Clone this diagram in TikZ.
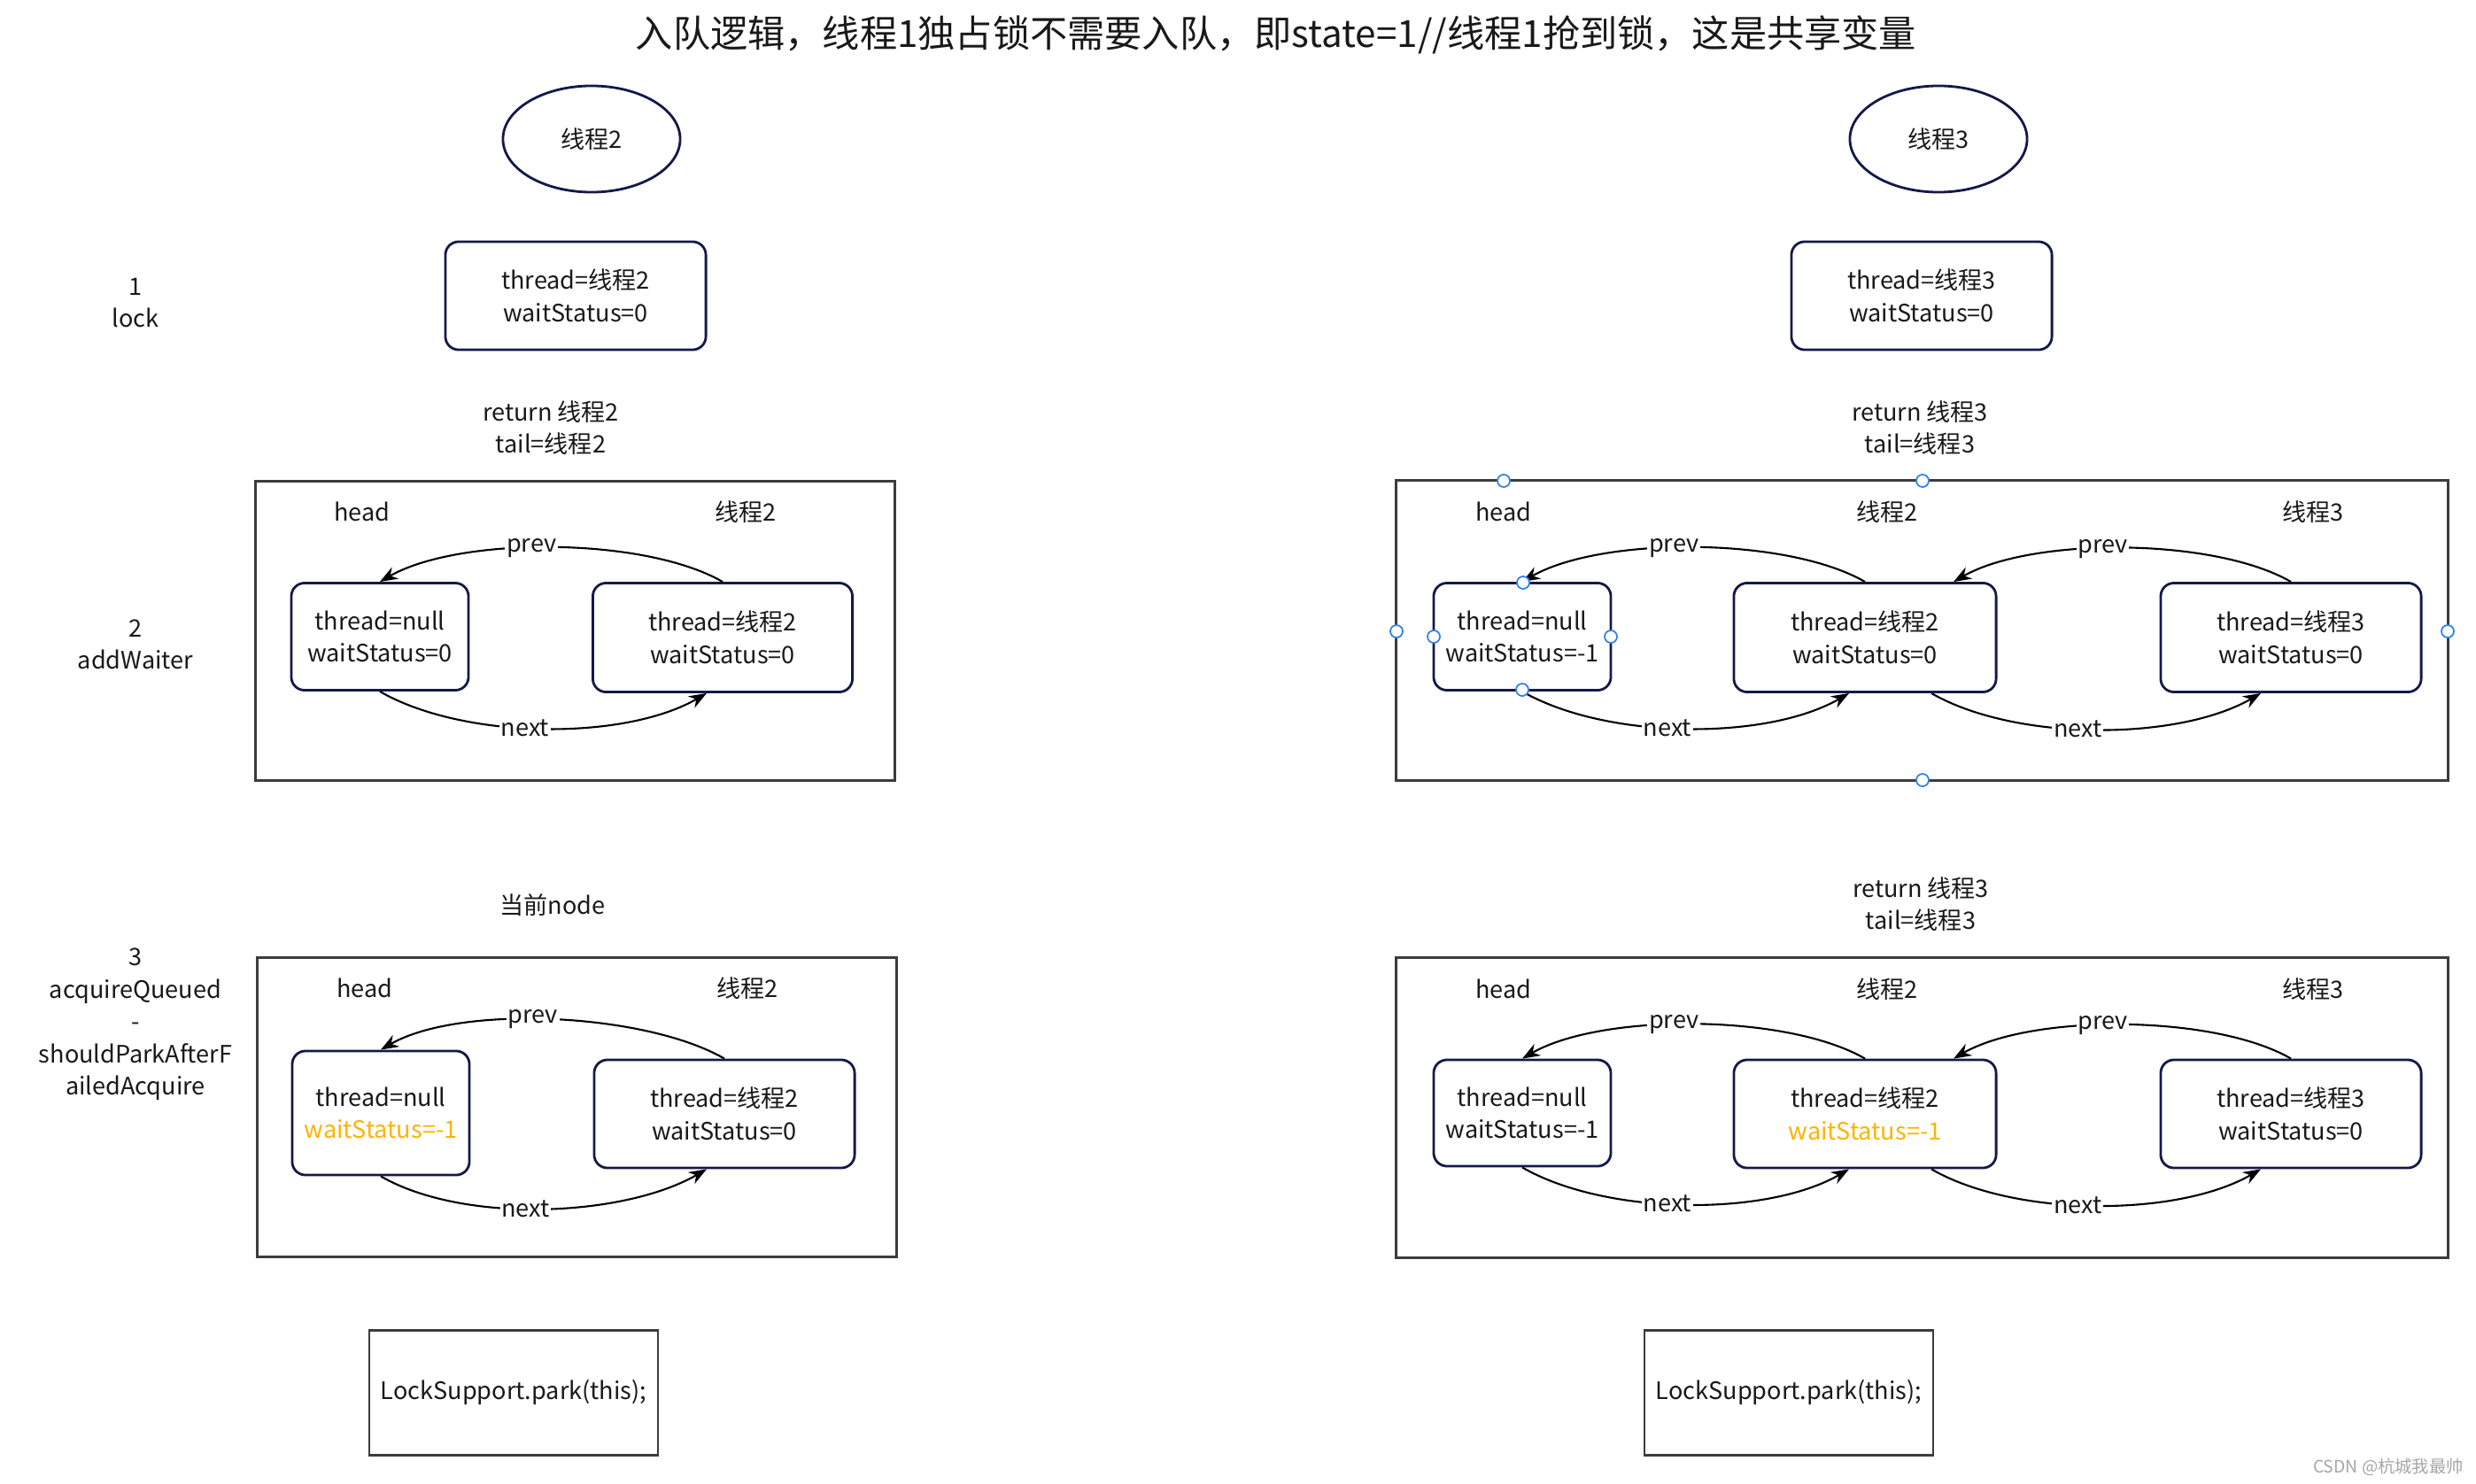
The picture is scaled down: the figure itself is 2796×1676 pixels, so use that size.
\documentclass[tikz,border=0pt]{standalone}
\usepackage{fontspec}
\setmainfont{Noto Sans CJK SC}
\usepackage{tikz}
\usetikzlibrary{arrows.meta}
\usetikzlibrary{shapes.geometric}
\definecolor{boxnavy}{HTML}{14194A}
\definecolor{panelgray}{HTML}{3C3C3C}
\definecolor{waitorange}{HTML}{FFB300}
\definecolor{handleblue}{HTML}{2F80ED}

\begin{document}
\begin{tikzpicture}[x=0.01cm, y=-0.01cm,
    every node/.style={font=\fontsize{7.7}{10.4}\selectfont, text=black!90},
    nodebox/.style={draw=boxnavy, line width=0.8pt, rounded corners=0.15cm, align=center, minimum height=1.22cm},
    panel/.style={draw=panelgray, line width=0.9pt, minimum width=7.21cm, minimum height=3.38cm},
    link/.style={-{Stealth[length=0.2cm,width=0.15cm]}, line width=0.6pt},
    lbl/.style={fill=white, inner sep=0.5pt},
    prevlink/.style={link, out=150, in=30, looseness=0.68},
    nextlink/.style={link, out=-30, in=-150, looseness=0.75},
    handle/.style={draw=handleblue, fill=white, line width=0.5pt}]
          \useasboundingbox (0,0) rectangle (2796,1676);

          \node[font=\fontsize{12}{14}\selectfont] (title) at (1441,39) {入队逻辑，线程1独占锁不需要入队，即state=1//线程1抢到锁，这是共享变量};

          % step labels
          \node[align=center] (s1) at (153,342) {1\\lock};
          \node[align=center] (s2) at (153,728) {2\\addWaiter};
          \node[align=center] (s3) at (153,1157) {3\\acquireQueued\\-\\shouldParkAfterF\\ailedAcquire};

          % step 1
          \node[ellipse, draw=boxnavy, line width=0.8pt, minimum width=2cm, minimum height=1.2cm] (th2) at (668,157) {线程2};
          \node[ellipse, draw=boxnavy, line width=0.8pt, minimum width=2cm, minimum height=1.2cm] (th3) at (2189,157) {线程3};
          \node[nodebox, minimum width=2.94cm] (n1l) at (650,334) {thread=线程2\\waitStatus=0};
          \node[nodebox, minimum width=2.94cm] (n1r) at (2170,334) {thread=线程3\\waitStatus=0};
          \node[align=center] (r1l) at (622,483) {return 线程2\\tail=线程2};
          \node[align=center] (r1r) at (2168,483) {return 线程3\\tail=线程3};

          % step 2, left
          \node[panel] (p2l) at (649.5,712.5) {};
          \node (h2l) at (409,578) {head};
          \node (t2l) at (842,578) {线程2};
          \node[nodebox, minimum width=2cm, minimum height=1.21cm] (a2l) at (429,719) {thread=null\\waitStatus=0};
          \node[nodebox, minimum width=2.93cm, minimum height=1.23cm] (b2l) at (816,720) {thread=线程2\\waitStatus=0};
          \draw[prevlink] (b2l.north) to node[lbl, pos=0.55] {prev} (a2l.north);
          \draw[nextlink] (a2l.south) to node[lbl, pos=0.45] {next} ([xshift=-0.18cm]b2l.south);

          % step 2, right
          \node[panel, minimum width=11.87cm] (p2r) at (2170.5,712) {};
          \node (h2r) at (1698,578) {head};
          \node (t2r) at (2131,578) {线程2};
          \node (u2r) at (2612,578) {线程3};
          \node[nodebox, minimum width=2cm, minimum height=1.21cm] (a2r) at (1719,719) {thread=null\\waitStatus=-1};
          \node[nodebox, minimum width=2.96cm, minimum height=1.23cm] (b2r) at (2106,720) {thread=线程2\\waitStatus=0};
          \node[nodebox, minimum width=2.94cm, minimum height=1.23cm] (c2r) at (2587,720) {thread=线程3\\waitStatus=0};
          \draw[prevlink] (b2r.north) to node[lbl, pos=0.55] {prev} (a2r.north);
          \draw[prevlink] (c2r.north) to node[lbl, pos=0.55] {prev} ([xshift=1cm]b2r.north);
          \draw[nextlink] (a2r.south) to node[lbl, pos=0.45] {next} ([xshift=-0.18cm]b2r.south);
          \draw[nextlink] ([xshift=0.75cm]b2r.south) to node[lbl, pos=0.45] {next} ([xshift=-0.34cm]c2r.south);
          % selection handles
          \foreach \hx/\hy in {1698/543, 2171/543, 1577/713, 2764/713, 2171/881, 1720/658, 1619/719, 1819/719, 1719/779}
            \draw[handle] (\hx,\hy) circle (0.07cm);

          % step 3, left
          \node (cur) at (624,1022) {当前node};
          \node[panel, minimum height=3.37cm] (p3l) at (651.5,1250.5) {};
          \node (h3l) at (412,1116) {head};
          \node (t3l) at (844,1116) {线程2};
          \node[nodebox, minimum width=2cm, minimum height=1.4cm] (a3l) at (430,1257) {thread=null\\\textcolor{waitorange}{waitStatus=-1}};
          \node[nodebox, minimum width=2.94cm, minimum height=1.22cm] (b3l) at (818,1258) {thread=线程2\\waitStatus=0};
          \draw[prevlink] (b3l.north) to node[lbl, pos=0.55] {prev} (a3l.north);
          \draw[nextlink] (a3l.south) to node[lbl, pos=0.45] {next} ([xshift=-0.2cm]b3l.south);

          % step 3, right
          \node[align=center] (r3r) at (2169,1021) {return 线程3\\tail=线程3};
          \node[panel, minimum width=11.87cm] (p3r) at (2170.5,1251) {};
          \node (h3r) at (1698,1117) {head};
          \node (t3r) at (2131,1117) {线程2};
          \node (u3r) at (2612,1117) {线程3};
          \node[nodebox, minimum width=2cm, minimum height=1.2cm] (a3r) at (1719,1257) {thread=null\\waitStatus=-1};
          \node[nodebox, minimum width=2.96cm, minimum height=1.22cm] (b3r) at (2106,1258) {thread=线程2\\\textcolor{waitorange}{waitStatus=-1}};
          \node[nodebox, minimum width=2.94cm, minimum height=1.22cm] (c3r) at (2587,1258) {thread=线程3\\waitStatus=0};
          \draw[prevlink] (b3r.north) to node[lbl, pos=0.55] {prev} (a3r.north);
          \draw[prevlink] (c3r.north) to node[lbl, pos=0.55] {prev} ([xshift=1cm]b3r.north);
          \draw[nextlink] (a3r.south) to node[lbl, pos=0.45] {next} ([xshift=-0.18cm]b3r.south);
          \draw[nextlink] ([xshift=0.75cm]b3r.south) to node[lbl, pos=0.45] {next} ([xshift=-0.34cm]c3r.south);

          % park
          \node[draw=panelgray, line width=0.7pt, minimum width=3.26cm, minimum height=1.41cm] (pk1) at (580,1573) {LockSupport.park(this);};
          \node[draw=panelgray, line width=0.7pt, minimum width=3.26cm, minimum height=1.41cm] (pk2) at (2020,1573) {LockSupport.park(this);};

          \node[font=\fontsize{5.5}{6}\selectfont, text=gray!70] (wm) at (2697,1657) {CSDN @杭城我最帅};
        \end{tikzpicture}
\end{document}
